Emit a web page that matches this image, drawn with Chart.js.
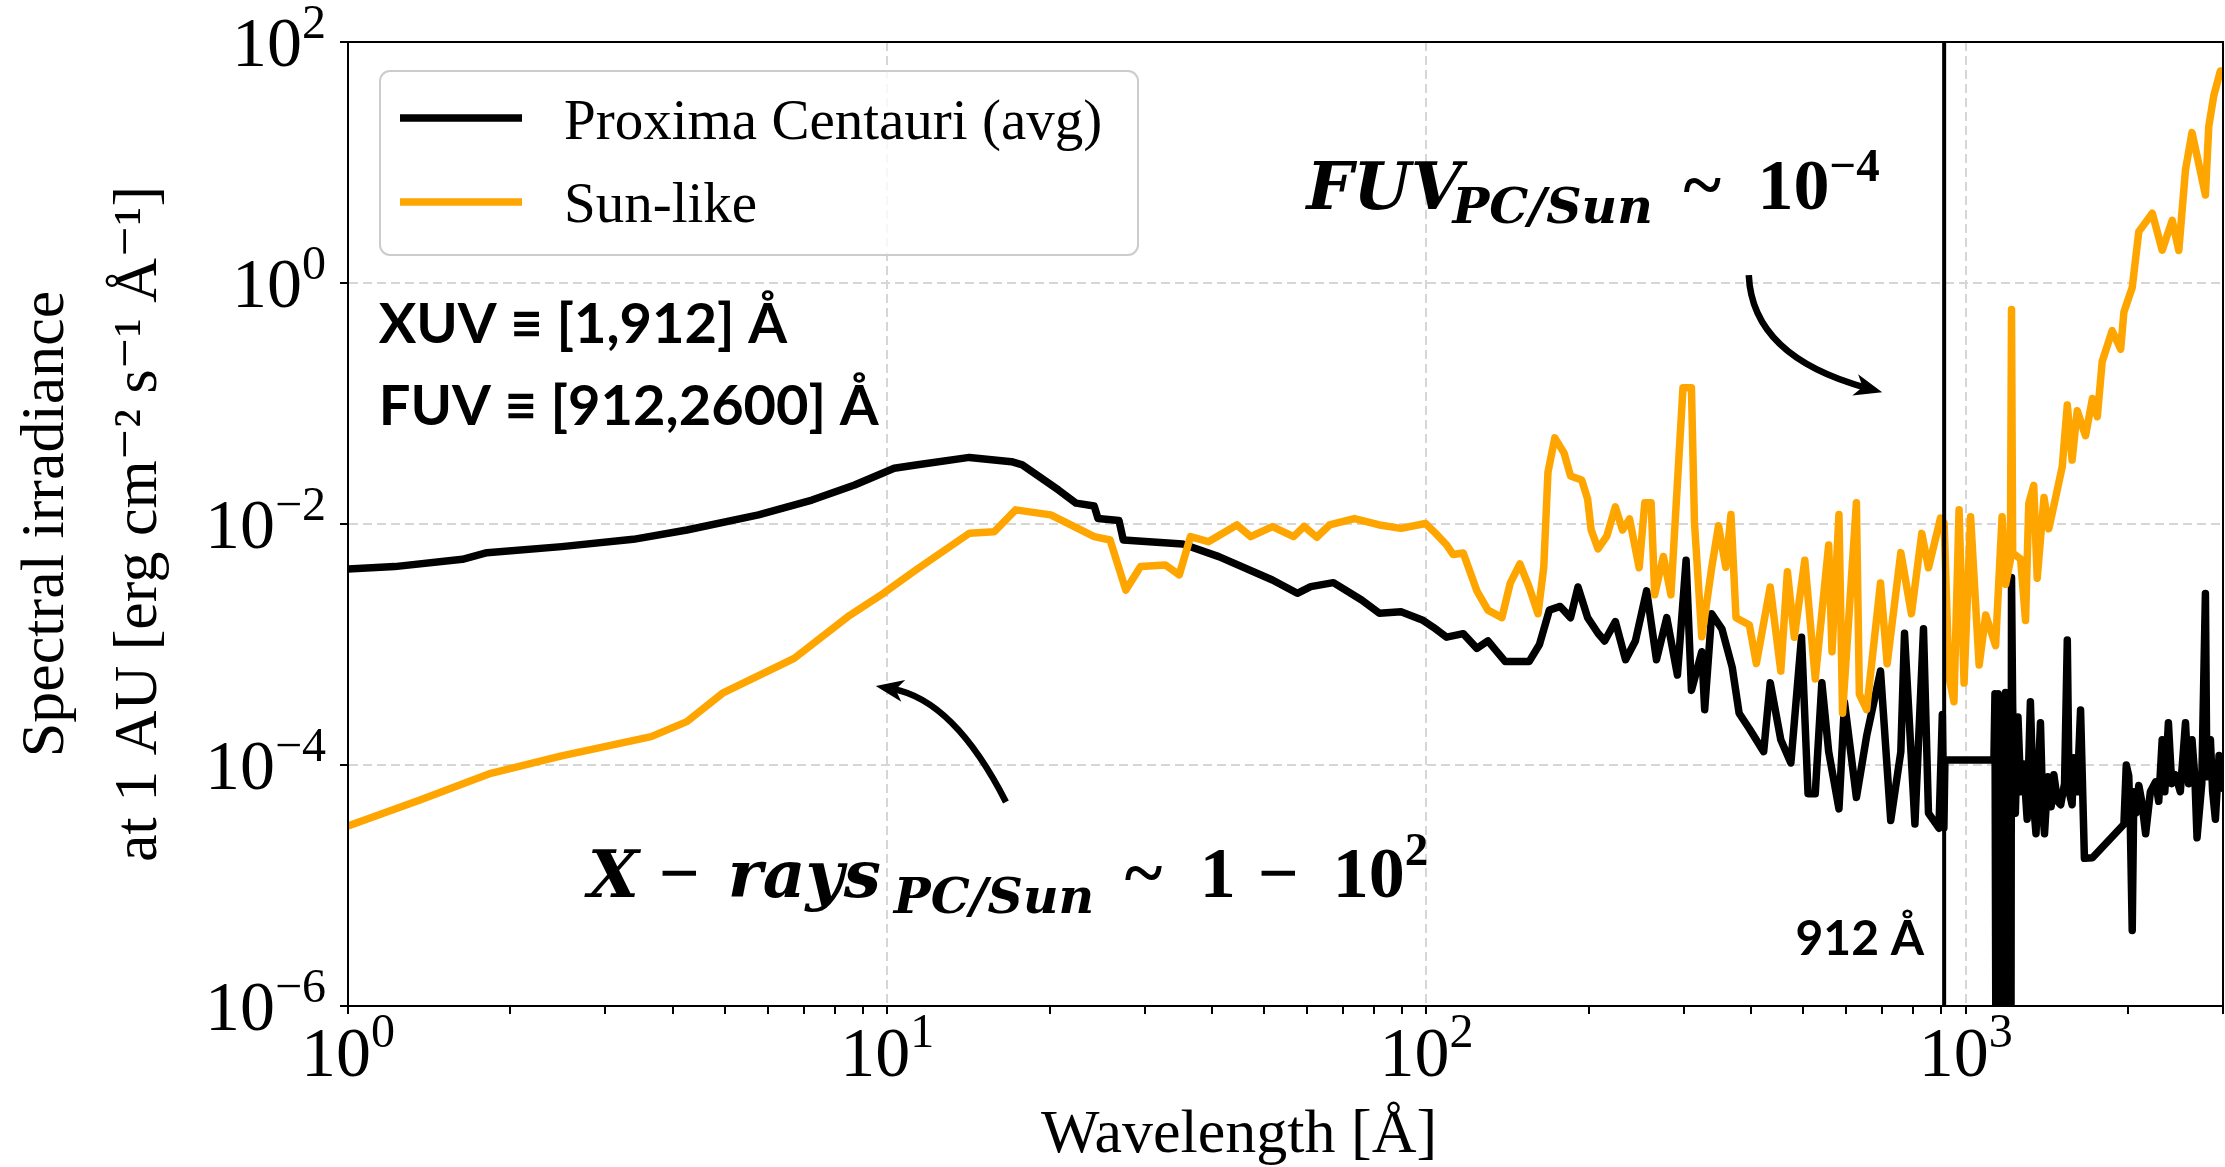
<!DOCTYPE html>
<html><head><meta charset="utf-8">
<script src="https://cdn.jsdelivr.net/npm/chart.js@4.4.1/dist/chart.umd.min.js"></script>
<style>html,body{margin:0;padding:0;background:#fff;}#wrap{width:2225px;height:1167px;position:relative;}</style>
</head><body><div id="wrap"><canvas id="c"></canvas></div>
<script>
// ---------- data ----------
const seriesLabels = ['Proxima Centauri (avg)', 'Sun-like'];
const proximaWavelength = [1,1.22,1.63,1.81,2.49,3.38,4.25,5.77,7.25,8.7,10.3,11.3,14.2,17.0,17.8,20.8,22.4,24.2,24.6,26.9,27.4,35.3,41.2,51.8,57.6,61,67.2,75.8,81.8,89.7,98.2,103,109,117,124,130,140,155,162,169,177,185,191,199,208,214,224,234,244,256,267,279,292,303,310,324,328,338,353,369,380,397,422,434,454,474,496,510,526,541,557,582,596,627,655,695,726,758,770,805,835,853,892,905,911,915,1128,1133,1140,1148,1156,1165,1175,1185,1195,1205,1212,1216,1222,1236,1250,1265,1280,1300,1318,1335,1350,1376,1390,1400,1420,1440,1457,1480,1500,1525,1543,1555,1575,1586,1610,1633,1645,1660,1718,1965,1985,2006,2020,2036,2050,2070,2094,2120,2156,2200,2249,2280,2314,2340,2376,2410,2448,2500,2556,2590,2628,2660,2685,2740,2783,2800,2843,2870,2904,2950,2987,3000];
const proximaFlux = [4.24e-3,4.43e-3,5.09e-3,5.78e-3,6.49e-3,7.46e-3,8.91e-3,1.19e-2,1.58e-2,2.11e-2,2.90e-2,3.09e-2,3.57e-2,3.29e-2,3.09e-2,1.91e-2,1.49e-2,1.41e-2,1.11e-2,1.07e-2,7.36e-3,6.82e-3,5.36e-3,3.43e-3,2.66e-3,3.02e-3,3.26e-3,2.34e-3,1.82e-3,1.87e-3,1.60e-3,1.39e-3,1.15e-3,1.23e-3,9.29e-4,1.07e-3,7.21e-4,7.21e-4,1.0e-3,1.93e-3,2.07e-3,1.67e-3,3.00e-3,1.67e-3,1.24e-3,1.07e-3,1.55e-3,7.48e-4,1.07e-3,2.79e-3,7.48e-4,1.67e-3,5.58e-4,5.00e-3,4.16e-4,8.71e-4,2.88e-4,1.80e-3,1.35e-3,6.46e-4,2.69e-4,2.00e-4,1.29e-4,4.82e-4,1.62e-4,1.04e-4,1.15e-3,5.78e-5,5.78e-5,4.82e-4,1.29e-4,4.32e-5,3.31e-4,5.37e-5,1.74e-4,6.03e-4,3.46e-5,1.29e-4,1.24e-3,3.24e-5,1.35e-3,3.98e-5,2.99e-5,2.63e-4,3.0e-5,1.1e-4,1.1e-4,3.9e-4,1e-8,3.9e-4,1e-8,3.5e-4,1e-8,4.0e-4,1e-8,3.8e-4,1e-8,3.6e-3,3.0e-4,3.98e-5,2.5e-4,6.0e-5,1.02e-4,3.55e-5,3.35e-4,5.0e-5,2.69e-5,2.24e-4,4.0e-5,2.69e-5,8.0e-5,4.5e-5,8.3e-5,5.0e-5,4.68e-5,7.0e-5,1.09e-3,6.0e-5,4.68e-5,1.15e-4,6.0e-5,2.86e-4,8.0e-5,1.68e-5,1.7e-5,3.22e-5,1.0e-4,8.13e-5,3.0e-5,4.23e-6,6.0e-5,4.0e-5,6.76e-5,5.0e-5,2.69e-5,6.0e-5,7.24e-5,5.0e-5,1.62e-4,6.0e-5,2.24e-4,7.0e-5,8.32e-5,6.0e-5,2.24e-4,7.0e-5,1.62e-4,8.0e-5,2.49e-5,7.0e-5,2.65e-3,8.0e-5,1.62e-4,6.0e-5,3.55e-5,1.2e-4,7.24e-5,6.0e-5];
const sunWavelength = [1,1.36,1.84,2.49,3.65,4.25,4.95,6.72,8.45,9.84,11.3,14.2,15.8,17.3,20.1,24.2,25.9,27.7,29.5,32.8,34.8,36.5,39.4,44.5,47.2,51.8,56.7,59.3,62.6,66.1,73.5,81.8,89.7,99.6,104,109,112,117,124,130,138,143,149,155,161,165,168,173,180,185,194,199,202,208,216,224,231,238,248,254,261,265,275,284,299,310,314,324,338,348,359,367,375,397,409,434,454,467,481,503,526,557,565,582,591,627,635,655,695,715,758,793,829,853,898,912,931,951,972,993,1021,1059,1089,1136,1168,1186,1210,1216,1222,1264,1291,1309,1337,1357,1397,1426,1468,1510,1543,1575,1610,1668,1718,1754,1791,1869,1938,1965,2036,2094,2218,2314,2415,2484,2556,2628,2705,2783,2823,2884,2967,3000];
const sunFlux = [3.12e-5,5.13e-5,8.53e-5,1.19e-4,1.72e-4,2.29e-4,3.94e-4,7.67e-4,1.70e-3,2.66e-3,4.15e-3,8.38e-3,8.63e-3,1.31e-2,1.19e-2,7.85e-3,7.36e-3,2.83e-3,4.43e-3,4.57e-3,3.78e-3,7.85e-3,7.13e-3,9.82e-3,7.85e-3,9.51e-3,7.85e-3,9.55e-3,7.76e-3,9.82e-3,1.11e-2,9.82e-3,9.20e-3,1.01e-2,8.36e-3,6.70e-3,5.58e-3,5.75e-3,2.79e-3,1.93e-3,1.67e-3,3.23e-3,4.66e-3,3.00e-3,1.80e-3,4.37e-3,2.69e-2,5.19e-2,3.87e-2,2.50e-2,2.32e-2,1.61e-2,8.97e-3,6.22e-3,7.94e-3,1.39e-2,8.91e-3,1.10e-2,4.33e-3,1.50e-2,1.50e-2,2.59e-3,5.38e-3,2.59e-3,1.35e-1,1.35e-1,1.04e-2,1.16e-3,4.33e-3,9.66e-3,4.37e-3,1.20e-2,1.67e-3,1.45e-3,6.95e-4,3.00e-3,6.01e-4,4.02e-3,1.15e-3,5.00e-3,5.18e-4,6.70e-3,8.71e-4,1.20e-2,2.69e-4,1.50e-2,3.87e-4,2.88e-4,3.24e-3,6.92e-4,5.79e-3,1.80e-3,8.36e-3,4.33e-3,1.12e-2,1.02e-2,5.37e-4,3.35e-4,1.31e-2,4.79e-4,1.15e-2,6.76e-4,1.76e-3,9.77e-4,1.15e-2,3.16e-3,5.0e-3,6.03e-1,5.75e-3,5.13e-3,1.58e-3,1.48e-2,2.09e-2,3.55e-3,1.66e-2,9.12e-3,1.66e-2,2.99e-2,9.73e-2,3.39e-2,8.71e-2,5.40e-2,1.10e-1,7.76e-2,2.23e-1,4.02e-1,2.82e-1,5.75e-1,9.18e-1,2.67,3.79,1.87,3.31,1.86,8.69,17.7,9.77,5.37,19.9,35.8,57.5,52];
const xTickValues = [1, 10, 100, 1000];
const xTickExponents = ['0', '1', '2', '3'];
const yTickValues = [1e-6, 1e-4, 1e-2, 1, 1e2];
const yTickExponents = ['\u22126', '\u22124', '\u22122', '0', '2'];
const tickBase = '10';
const lymanLimit = 912;

// ---------- styling ----------
const SERIF = '"Liberation Serif", "DejaVu Serif", serif';
const MATH = '"DejaVu Serif", serif';
const SANS = 'Lato, "Noto Sans", sans-serif';
const GRID = '#d6d6d6';

// annotations anchored in data coordinates (wavelength, irradiance)
const texts = [
  {at: [1.14, 0.318], parts: [{t: 'XUV \u2261 [1,912] \u00C5', f: 'bold 56px ' + SANS}]},
  {at: [1.14, 0.0664], parts: [{t: 'FUV \u2261 [912,2600] \u00C5', f: 'bold 56px ' + SANS}]},
  {at: [837, 2.65e-6], align: 'right', parts: [{t: '912 \u00C5', f: 'bold 48px ' + SANS}]},
  {at: [2.785, 8.03e-6], parts: [
    {t: 'X', f: 'italic bold 66px ' + MATH, dx: 0},
    {t: '\u2212', f: 'bold 72px ' + SERIF, dx: 71},
    {t: 'rays', f: 'italic bold 66px ' + MATH, dx: 140},
    {t: 'PC/Sun', f: 'italic bold 49px ' + MATH, dx: 306, dy: 16},
    {t: '~', f: 'bold 72px ' + SERIF, dx: 537},
    {t: '1', f: 'bold 72px ' + SERIF, dx: 612},
    {t: '\u2212', f: 'bold 72px ' + SERIF, dx: 670},
    {t: '10', f: 'bold 72px ' + SERIF, dx: 745},
    {t: '2', f: 'bold 47px ' + SERIF, dy: -32}
  ]},
  {at: [59.9, 4.11], parts: [
    {t: 'FUV', f: 'italic bold 66px ' + MATH, dx: 0},
    {t: 'PC/Sun', f: 'italic bold 49px ' + MATH, dx: 146, dy: 14},
    {t: '~', f: 'bold 72px ' + SERIF, dx: 377},
    {t: '10', f: 'bold 72px ' + SERIF, dx: 451},
    {t: '\u22124', f: 'bold 47px ' + SERIF, dy: -28}
  ]}
];
const arrows = [
  {from: [396, 1.16], ctrl: [402, 0.245], to: [700, 0.124]},
  {from: [16.6, 4.93e-5], ctrl: [13.3, 3.46e-4], to: [9.52, 4.53e-4]}
];

function drawRich(ctx, x0, y0, parts, align) {
  let cur = x0;
  if (align === 'right') {
    let w = 0;
    parts.forEach(p => { ctx.font = p.f; w += ctx.measureText(p.t).width; });
    cur = x0 - w;
  }
  const start = cur;
  parts.forEach(p => {
    ctx.font = p.f;
    const px = p.dx !== undefined ? start + p.dx : cur;
    ctx.fillText(p.t, px, y0 + (p.dy || 0));
    cur = px + ctx.measureText(p.t).width;
  });
}

function drawArrow(ctx, xs, ys, a) {
  const S = [xs.getPixelForValue(a.from[0]), ys.getPixelForValue(a.from[1])];
  const C = [xs.getPixelForValue(a.ctrl[0]), ys.getPixelForValue(a.ctrl[1])];
  const E = [xs.getPixelForValue(a.to[0]), ys.getPixelForValue(a.to[1])];
  const dx = E[0] - C[0], dy = E[1] - C[1];
  const len = Math.hypot(dx, dy); const ux = dx / len, uy = dy / len;
  const nx = -uy, ny = ux; const L = 28, W = 11;
  ctx.strokeStyle = '#000'; ctx.fillStyle = '#000'; ctx.lineWidth = 6.5; ctx.lineCap = 'butt';
  ctx.beginPath(); ctx.moveTo(S[0], S[1]);
  ctx.quadraticCurveTo(C[0], C[1], E[0] - ux * L * 0.6, E[1] - uy * L * 0.6); ctx.stroke();
  const bx = E[0] - ux * L, by = E[1] - uy * L;
  ctx.beginPath(); ctx.moveTo(E[0], E[1]);
  ctx.lineTo(bx + nx * W, by + ny * W);
  ctx.lineTo(E[0] - ux * L * 0.72, E[1] - uy * L * 0.72);
  ctx.lineTo(bx - nx * W, by - ny * W);
  ctx.closePath(); ctx.fill();
}

function drawTickLabels(ctx, a, x, y) {
  const fb = '70px ' + SERIF, fe = '48px ' + SERIF;
  ctx.fillStyle = '#000'; ctx.textBaseline = 'alphabetic'; ctx.textAlign = 'left';
  ctx.font = fb; const wb = ctx.measureText(tickBase).width;
  xTickValues.forEach((v, i) => {
    const px = x.getPixelForValue(v);
    ctx.font = fe; const we = ctx.measureText(xTickExponents[i]).width;
    const left = px - (wb + we) / 2;
    ctx.font = fb; ctx.fillText(tickBase, left, a.bottom + 70);
    ctx.font = fe; ctx.fillText(xTickExponents[i], left + wb, a.bottom + 41);
  });
  yTickValues.forEach((v, i) => {
    const py = y.getPixelForValue(v);
    ctx.font = fe; const we = ctx.measureText(yTickExponents[i]).width;
    const right = a.left - 22;
    ctx.font = fb; ctx.fillText(tickBase, right - we - wb, py + 24);
    ctx.font = fe; ctx.fillText(yTickExponents[i], right - we, py - 4);
  });
}

const overlay = {
  id: 'overlay',
  afterDatasetsDraw(chart) {
    const {ctx, chartArea: a, scales: {x}} = chart;
    const px = x.getPixelForValue(lymanLimit);
    ctx.save();
    ctx.strokeStyle = '#000'; ctx.lineWidth = 4;
    ctx.beginPath(); ctx.moveTo(px, a.top); ctx.lineTo(px, a.bottom); ctx.stroke();
    ctx.restore();
  },
  afterDraw(chart) {
    const {ctx, chartArea: a, scales: {x, y}} = chart;
    ctx.save();
    ctx.strokeStyle = '#000'; ctx.lineWidth = 2;
    ctx.strokeRect(a.left, a.top, a.right - a.left, a.bottom - a.top);
    drawTickLabels(ctx, a, x, y);
    // legend
    const bx = a.left + 32, by = a.top + 29, bw = 758, bh = 184;
    ctx.beginPath(); ctx.roundRect(bx, by, bw, bh, 10);
    ctx.fillStyle = 'rgba(255,255,255,0.8)'; ctx.fill();
    ctx.lineWidth = 2; ctx.strokeStyle = '#cccccc'; ctx.stroke();
    ctx.textBaseline = 'alphabetic'; ctx.textAlign = 'left';
    chart.data.datasets.forEach((ds, i) => {
      const ly = by + 47 + i * 84;
      ctx.beginPath(); ctx.moveTo(bx + 20, ly); ctx.lineTo(bx + 142, ly);
      ctx.strokeStyle = ds.borderColor; ctx.lineWidth = 7.5; ctx.lineCap = 'butt'; ctx.stroke();
      ctx.fillStyle = '#000'; ctx.font = '57px ' + SERIF;
      ctx.fillText(ds.label, bx + 184, by + 68 + i * 83);
    });
    ctx.fillStyle = '#000';
    texts.forEach(t => drawRich(ctx, x.getPixelForValue(t.at[0]), y.getPixelForValue(t.at[1]), t.parts, t.align));
    arrows.forEach(ar => drawArrow(ctx, x, y, ar));
    ctx.restore();
  }
};

const gridColor = (c) => (c.tick && c.tick.major) ? GRID : 'rgba(0,0,0,0)';

new Chart(document.getElementById('c'), {
  type: 'line',
  data: {
    datasets: [
      {label: seriesLabels[0], data: proximaWavelength.map((w, i) => ({x: w, y: proximaFlux[i]})),
       borderColor: '#000000', borderWidth: 7.5, pointRadius: 0, tension: 0, order: 1, borderJoinStyle: 'round', fill: false},
      {label: seriesLabels[1], data: sunWavelength.map((w, i) => ({x: w, y: sunFlux[i]})),
       borderColor: '#ffa500', borderWidth: 7.5, pointRadius: 0, tension: 0, order: 0, borderJoinStyle: 'round', fill: false}
    ]
  },
  options: {
    responsive: true, maintainAspectRatio: false, animation: false, devicePixelRatio: 1,
    layout: {padding: {top: 42, right: 2, left: 0, bottom: 0}},
    plugins: {legend: {display: false}, tooltip: {enabled: false}},
    scales: {
      x: {
        type: 'logarithmic', position: 'bottom', min: 1, max: 3000,
        afterBuildTicks: (s) => {
          const t = [];
          xTickValues.forEach(d => { for (let m = 1; m <= 9; m++) { const v = m * d; if (v <= 3000) t.push({value: v, major: m === 1}); } });
          s.ticks = t;
        },
        afterFit: (s) => { s.height = 161; },
        ticks: {display: false, autoSkip: false, maxRotation: 0},
        grid: {color: gridColor, lineWidth: 2, tickColor: '#000', tickWidth: 2, tickLength: 8, tickBorderDash: []},
        border: {display: true, color: '#000', width: 2, dash: [9, 5]},
        title: {display: true, text: 'Wavelength [\u00C5]      ', color: '#000', font: {family: SERIF, size: 62, lineHeight: 1.0}, padding: {top: 0, bottom: 0}}
      },
      y: {
        type: 'logarithmic', position: 'left', min: 1e-6, max: 1e2,
        afterBuildTicks: (s) => { s.ticks = yTickValues.map(v => ({value: v, major: true})); },
        afterFit: (s) => { s.width = 348; },
        ticks: {display: false, autoSkip: false},
        grid: {color: gridColor, lineWidth: 2, tickColor: '#000', tickWidth: 2, tickLength: 8, tickBorderDash: []},
        border: {display: true, color: '#000', width: 2, dash: [9, 5]},
        title: {display: true, text: ['Spectral irradiance', 'at 1 AU [erg cm\u207B\u00B2 s\u207B\u00B9 \u00C5\u207B\u00B9]'], color: '#000',
          font: {family: SERIF, size: 62, lineHeight: 1.5}, padding: {top: 0, bottom: 0}}
      }
    }
  },
  plugins: [overlay]
});
</script></body></html>
